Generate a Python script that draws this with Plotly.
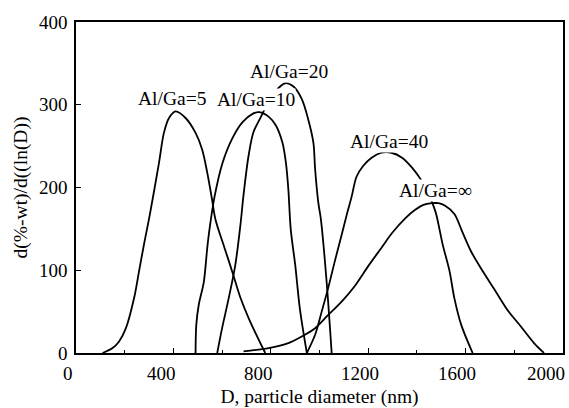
import plotly.graph_objects as go

# Particle size distributions for several Al/Ga ratios
d_ga5 = [109, 150, 177, 205, 239, 259, 279, 303, 341, 361, 382, 409, 450, 491, 518,
         539, 559, 573, 610, 642, 675, 712, 777]
w_ga5 = [0, 6, 14, 30, 67, 99, 131, 167, 230, 266, 284, 292, 284, 266, 246,
         218, 185, 161, 127, 98, 67, 40, 0]

d_ga10 = [491, 494, 504, 525, 539, 548, 569, 602, 643, 684, 725, 753, 793, 821,
          848, 862, 872, 882, 900, 920, 948]
w_ga10 = [0, 34, 58, 86, 127, 149, 189, 230, 260, 279, 289, 291, 285, 275,
          254, 230, 198, 149, 107, 52, 0]

d_ga20 = [580, 600, 627, 654, 675, 688, 709, 729, 764, 789, 818, 859, 893,
          927, 954, 975, 982, 995, 1006, 1029, 1050]
w_ga20 = [0, 30, 66, 106, 154, 191, 239, 267, 288, 304, 316, 326, 322,
          307, 282, 254, 222, 182, 161, 87, 0]

d_ga40 = [948, 982, 1009, 1036, 1063, 1091, 1111, 1132, 1152, 1179, 1214, 1254,
          1295, 1339, 1380, 1420, 1444, 1465, 1479, 1506, 1534, 1554, 1582, 1629]
w_ga40 = [0, 22, 50, 79, 111, 143, 166, 189, 213, 226, 236, 242,
          242, 236, 224, 208, 195, 180, 168, 131, 99, 66, 34, 0]

d_inf = [688, 791, 872, 927, 982, 1036, 1091, 1145, 1200, 1254, 1298, 1353, 1393,
         1427, 1461, 1489, 1516, 1554, 1587, 1622, 1670, 1718, 1772, 1827, 1881, 1922]
w_inf = [2, 6, 12, 20, 30, 46, 62, 81, 105, 127, 145, 163, 173,
         179, 181, 181, 178, 168, 146, 123, 99, 77, 52, 32, 12, 0]

series = [
    ("Al/Ga=5", d_ga5, w_ga5),
    ("Al/Ga=10", d_ga10, w_ga10),
    ("Al/Ga=20", d_ga20, w_ga20),
    ("Al/Ga=40", d_ga40, w_ga40),
    ("Al/Ga=∞", d_inf, w_inf),
]

# Curve labels: (text, x, y, vertical anchor)
curve_labels = [
    ("Al/Ga=5", 393, 307, "middle"),
    ("Al/Ga=10", 738, 293, "bottom"),
    ("Al/Ga=20", 875, 340, "middle"),
    ("Al/Ga=40", 1284, 256, "middle"),
    ("Al/Ga=∞", 1478, 183, "bottom"),
]

x_tick_vals = [0, 400, 800, 1200, 1600, 2000]
x_tick_text = ["0", "400", "800", "1200", "1600", "2000"]
x_tick_shift = [-8, -12, -12, -8, -9, -17]
y_tick_vals = [0, 100, 200, 300, 400]

FONT = "Liberation Serif, Times New Roman, serif"
LABEL_SIZE = 19.5
TICK_SIZE = 19

fig = go.Figure()
for name, xs, ys in series:
    fig.add_trace(go.Scatter(
        x=xs, y=ys, mode="lines", name=name,
        line=dict(color="black", width=1.8, shape="spline", smoothing=0.9),
        showlegend=False, hoverinfo="skip",
    ))

annotations = []
for text, x, y, anchor in curve_labels:
    annotations.append(dict(
        x=x, y=y, xref="x", yref="y", text=text, showarrow=False,
        yanchor=anchor,
        font=dict(family=FONT, size=LABEL_SIZE, color="black"),
        bgcolor="white", borderpad=0,
    ))
for v, t, s in zip(x_tick_vals, x_tick_text, x_tick_shift):
    annotations.append(dict(
        x=v, y=0, xref="x", yref="y", text=t, showarrow=False,
        xshift=s, yshift=-20,
        font=dict(family=FONT, size=TICK_SIZE, color="black"),
    ))

fig.update_layout(
    width=569, height=408,
    margin=dict(l=76, r=4, t=22, b=55),
    paper_bgcolor="white", plot_bgcolor="white",
    font=dict(family=FONT, size=TICK_SIZE, color="black"),
    annotations=annotations,
    xaxis=dict(
        range=[0, 2000], tickvals=x_tick_vals, showticklabels=False,
        ticks="inside", ticklen=5, tickwidth=1.3, tickcolor="black",
        minor=dict(dtick=200, ticks="inside", ticklen=3, tickwidth=1.3, tickcolor="black"),
        showline=True, linecolor="black", linewidth=1.5, mirror=True,
        showgrid=False, zeroline=False,
        title=dict(text="D, particle diameter (nm)", standoff=36,
                   font=dict(family=FONT, size=LABEL_SIZE)),
    ),
    yaxis=dict(
        range=[0, 400], tickvals=y_tick_vals,
        ticks="inside", ticklen=5, tickwidth=1.3, tickcolor="black",
        ticklabelstandoff=3,
        showline=True, linecolor="black", linewidth=1.5, mirror=True,
        showgrid=False, zeroline=False,
        title=dict(text="d(%-wt)/d((ln(D))", standoff=6,
                   font=dict(family=FONT, size=LABEL_SIZE)),
    ),
)

fig.write_html("out.html")
